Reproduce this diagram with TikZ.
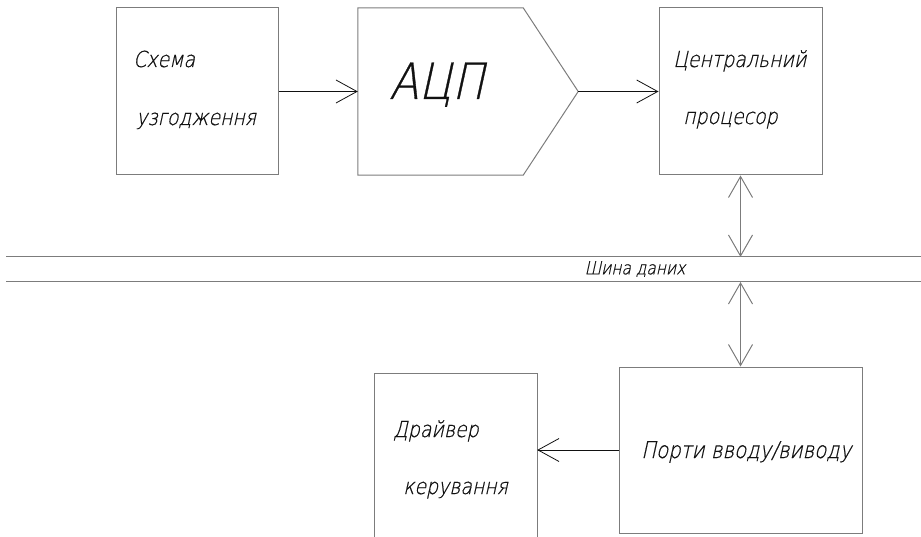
\documentclass[tikz,border=0pt]{standalone}
\usepackage{fontspec}
\setmainfont{DejaVu Sans ExtraLight}[FakeSlant=0.22,FakeStretch=0.86,FakeBold=0.6]
\usepackage{xcolor}
\usetikzlibrary{arrows.meta}
\definecolor{schemeink}{HTML}{111111}
\definecolor{schemegray}{HTML}{7C7C7C}

\begin{document}
\begin{tikzpicture}[
  x=1pt,
  y=-1pt,
  blok/.style={draw=schemegray, line width=1pt, inner sep=0pt},
  napys/.style={anchor=base west, inner sep=0pt, font=\fontsize{22}{22}\selectfont, text=schemeink},
  strilka/.style={draw=schemeink, line width=0.8pt, -{Straight Barb[length=21pt, width=23pt]}},
  dvostrilka/.style={draw=schemegray, line width=1pt, {Straight Barb[length=21pt, width=24pt]}-{Straight Barb[length=21pt, width=24pt]}}
]
  \useasboundingbox (0,0) rectangle (921,537);

  \node[blok, minimum width=162pt, minimum height=167pt] (sch) at (197,91.5) {};
  \node[inner sep=0pt, minimum width=220pt, minimum height=167pt] (adc) at (468,91.5) {};
  \draw[blok] (adc.north west) -- ([xshift=-55pt]adc.north east) -- (adc.east)
    -- ([xshift=-55pt]adc.south east) -- (adc.south west) -- cycle;
  \node[blok, minimum width=163pt, minimum height=167pt] (cpu) at (740.5,91.5) {};
  \node[blok, minimum width=243pt, minimum height=166pt] (port) at (740.5,450) {};
  \node[inner sep=0pt, minimum width=162pt, minimum height=163pt] (drv) at (456,455.5) {};
  \draw[blok] (drv.south west) -- (drv.north west) -- (drv.north east) -- (drv.south east);

  \node[napys] (sch1) at (133,67) {Схема};
  \node[napys] (sch2) at (136,125) {узгодження};
  \node[napys, font=\fontsize{50}{50}\selectfont] (adcT) at (389,99) {АЦП};
  \node[napys] (cpu1) at (673,67) {Центральний};
  \node[napys] (cpu2) at (683,124) {процесор};
  \node[napys] (drv1) at (393,437) {Драйвер};
  \node[napys] (drv2) at (403,494) {керування};
  \node[napys, font=\fontsize{23}{23}\selectfont] (port1) at (641,458) {Порти вводу/виводу};

  \coordinate (busTopL) at (6,257);
  \coordinate (busTopR) at (921,257);
  \coordinate (busBotL) at (6,282);
  \coordinate (busBotR) at (921,282);
  \draw[schemegray, line width=1pt] (busTopL) -- (busTopR);
  \draw[schemegray, line width=1pt] (busBotL) -- (busBotR);
  \node[text=schemeink, font=\fontsize{18}{18}\selectfont] (bus) at (635,269) {Шина даних};

  \draw[strilka] (sch.east) -- (adc.west);
  \draw[strilka] (adc.east) -- (cpu.west);
  \draw[strilka] (port.west) -- (drv.east |- port.west);
  \draw[dvostrilka] (cpu.south) -- (cpu.south |- busTopL);
  \draw[dvostrilka] (port.north |- busBotL) -- (port.north);
\end{tikzpicture}
\end{document}
